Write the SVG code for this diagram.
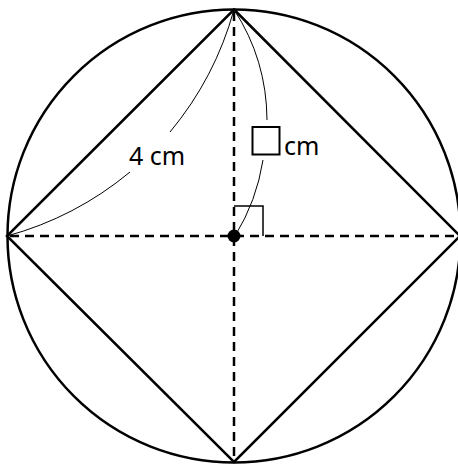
<svg xmlns="http://www.w3.org/2000/svg" width="458" height="465" viewBox="0 0 458 465">
<style>
.thick{fill:none;stroke:#000;stroke-width:2.5;stroke-linejoin:miter}
.dash{fill:none;stroke:#000;stroke-width:2.5;stroke-dasharray:9 6}
.thin{fill:none;stroke:#000;stroke-width:1}
.mark{fill:none;stroke:#000;stroke-width:1.5}
.lbl{font-family:"Noto Sans","Liberation Sans",sans-serif;font-size:25px;fill:#000}
</style>
<rect width="458" height="465" fill="#fff"/>
<g id="circle"><circle cx="234" cy="236" r="226.5" class="thick"/></g>
<g id="square"><polygon points="234,9.5 460,236 234,462 7,236" class="thick"/></g>
<g id="connectors">
<line x1="234" y1="12" x2="234" y2="461" class="dash"/>
<line x1="10" y1="236" x2="458" y2="236" class="dash"/>
<path d="M7 236 A328 328 0 0 0 130 172 M170 132 A328 328 0 0 0 234 9.5" class="thin"/>
<path d="M234 9.5 A205 205 0 0 1 267 120 M263 160 A205 205 0 0 1 235 236" class="thin"/>
<polyline points="234,206 263,206 263,236" class="mark"/>
</g>
<g id="center"><circle cx="234" cy="236" r="6.5" fill="#000"/></g>
<g id="label-4cm"><text x="129" y="165" class="lbl">4 cm</text></g>
<g id="label-box"><rect x="252.5" y="127" width="27" height="27.5" fill="#fff" stroke="#000" stroke-width="2"/><text x="284" y="155" class="lbl">cm</text></g>
</svg>
